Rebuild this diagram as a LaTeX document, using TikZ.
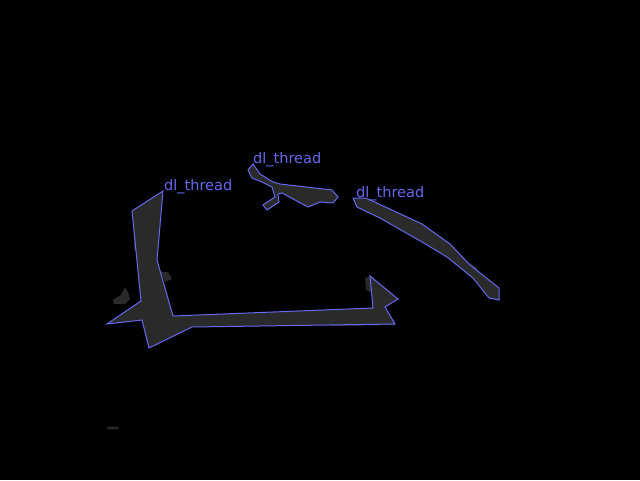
\documentclass[tikz,border=0pt]{standalone}
\usepackage{fontspec}
\setmainfont{DejaVu Sans}
\definecolor{maskgray}{RGB}{42,42,42}
\definecolor{lineblue}{RGB}{104,104,240}

\begin{document}
\begin{tikzpicture}[x=1pt,y=-1pt]
  \tikzstyle{mask}=[fill=maskgray]
  \tikzstyle{region}=[fill=maskgray,draw=lineblue,line width=1pt,line join=miter]
  \tikzstyle{texto}=[text=lineblue,font=\fontsize{14.5}{14.5}\selectfont,inner sep=0pt,anchor=base west]

  \fill [black] (0,0) rectangle (640,480);
  \useasboundingbox (0,0) rectangle (640,480);

  % loose bits of the mask
  \fill [mask] (113,300) -- (121,295) -- (125,287) -- (128,292) -- (130,299) -- (125,304) -- (114,304) -- cycle;
  \fill [mask] (161,272) -- (168,272) -- (172,279) -- (165,282) -- cycle;
  \fill [mask] (134,222) -- (140,224) -- (141,252) -- (134,250) -- cycle;
  \fill [mask] (365,278) -- (371,276) -- (372,292) -- (366,290) -- cycle;
  \fill [mask] (330,318) -- (372,316) -- (394,320) -- (394,325) -- (330,326) -- cycle;
  \fill [mask] (470,263) -- (477,268) -- (478,276) -- (472,274) -- cycle;
  \fill [mask] (113,428) ellipse [x radius=6.5, y radius=1.5];

  % first thread
  \path [region] (163,191) -- (132,211) -- (141,301) -- (107,324) -- (142,320)
    -- (149,348) -- (192,327) -- (395,324) -- (385,307) -- (398,299)
    -- (370,276) -- (373,308) -- (173,316) -- (157,260) -- cycle;
  \node [texto] (t1) at (164,190) {dl\_thread};

  % second thread
  \path [region] (253,164) -- (248,170) -- (252,178) -- (262,182) -- (272,187)
    -- (275,197) -- (263,205) -- (267,210) -- (279,202) -- (278,194)
    -- (282,193) -- (308,207) -- (320,202) -- (333,203) -- (338,197)
    -- (332,190) -- (280,184) -- (273,182) -- (260,174) -- cycle;
  \node [texto] (t2) at (253,163.5) {dl\_thread};

  % third thread
  \path [region] (353,198) -- (366,198) -- (422,224) -- (450,244) -- (470,265)
    -- (499,288) -- (499,300) -- (489,298) -- (473,278) -- (447,257)
    -- (422,242) -- (380,218) -- (357,207) -- cycle;
  \node [texto] (t3) at (356,197) {dl\_thread};
\end{tikzpicture}
\end{document}
